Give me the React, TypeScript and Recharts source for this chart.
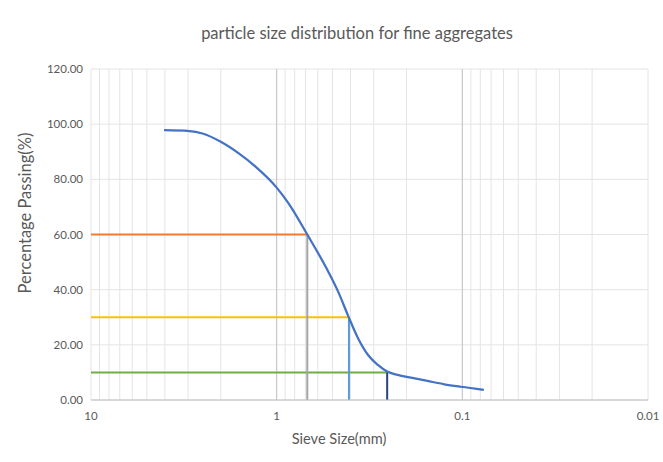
import { ComposedChart, Line, XAxis, YAxis, CartesianGrid, ReferenceLine } from "recharts";

// sieve sizes (mm) and percentage passing
const sieveSizes = [4.04, 2.95, 2.51, 2.0, 1.6, 1.3, 1.0, 0.863, 0.684, 0.527, 0.466, 0.412, 0.364, 0.322, 0.285, 0.254, 0.223, 0.189, 0.154, 0.125, 0.102, 0.0766];
const passing = [97.8, 97.5, 96.6, 93.6, 89.4, 84.6, 77.0, 71.3, 60, 46.5, 39.2, 30.5, 22.3, 16.3, 12.7, 10.3, 9.1, 8.1, 6.9, 5.7, 4.8, 3.7];

// D60, D30, D10
const dPercents = [60, 30, 10];
const dSizes = [0.684, 0.408, 0.254];
const hColors = ["#ED7D31", "#FFC000", "#70AD47"];
const vColors = ["#A5A5A5", "#5B9BD5", "#264478"];

const xGrid = [
  10, 9, 8, 7, 6, 5, 4, 3, 2,
  1, 0.9, 0.8, 0.7, 0.6, 0.5, 0.4, 0.3, 0.2,
  0.1, 0.09, 0.08, 0.07, 0.06, 0.05, 0.04, 0.03, 0.02,
  0.01,
];
const xMajor = [10, 1, 0.1, 0.01];
const yTicks = [0, 20, 40, 60, 80, 100, 120];

const curve = sieveSizes.map((s, i) => ({ size: s, p: passing[i] }));

const FONT = "Lato, 'Open Sans', sans-serif";

export default function App() {
  return (
    <div style={{ position: "absolute", left: 0, top: 0, width: 663, height: 462, background: "#fff", fontFamily: FONT }}>
      <div style={{ position: "absolute", left: 0, width: 714, top: 23, textAlign: "center", fontSize: 16.5, color: "#595959" }}>
        particle size distribution for fine aggregates
      </div>
      <div style={{ position: "absolute", left: 0, width: 678, top: 430, textAlign: "center", fontSize: 14.6, color: "#595959" }}>
        Sieve Size(mm)
      </div>
      <div
        style={{
          position: "absolute",
          left: 25,
          top: 213,
          transform: "translate(-50%, -50%) rotate(-90deg)",
          whiteSpace: "nowrap",
          fontSize: 16.5,
          color: "#595959",
        }}
      >
        Percentage Passing(%)
      </div>

      <ComposedChart width={663} height={462} margin={{ top: 69, right: 15, bottom: 32, left: 0 }}>
        <CartesianGrid stroke="#e4e4e4" strokeWidth={1} />
        <XAxis
          dataKey="size"
          type="number"
          scale="log"
          domain={[0.01, 10]}
          reversed
          allowDataOverflow
          ticks={xGrid}
          interval={0}
          tickFormatter={(v: number) => (xMajor.includes(v) ? String(v) : "")}
          tickLine={false}
          tickMargin={6}
          height={30}
          axisLine={{ stroke: "#bfbfbf" }}
          tick={{ fill: "#595959", fontSize: 11.5, fontFamily: FONT }}
        />
        <YAxis
          type="number"
          domain={[0, 120]}
          ticks={yTicks}
          width={91}
          axisLine={false}
          tickLine={false}
          tickFormatter={(v: number) => v.toFixed(2)}
          tick={{ fill: "#595959", fontSize: 11.5, fontFamily: FONT }}
        />
        {xMajor.slice(1, 3).map((v) => (
          <ReferenceLine key={v} x={v} stroke="#c4c4c4" strokeWidth={1} />
        ))}
        {dPercents.map((p, i) => (
          <Line
            key={"h" + p}
            data={[{ size: 10, p }, { size: dSizes[i], p }]}
            dataKey="p"
            type="linear"
            stroke={hColors[i]}
            strokeWidth={2}
            dot={false}
            isAnimationActive={false}
          />
        ))}
        {dPercents.map((p, i) => (
          <Line
            key={"v" + p}
            data={[{ size: dSizes[i], p }, { size: dSizes[i], p: 0 }]}
            dataKey="p"
            type="linear"
            stroke={vColors[i]}
            strokeWidth={2}
            dot={false}
            isAnimationActive={false}
          />
        ))}
        <Line
          data={curve}
          dataKey="p"
          type="monotone"
          stroke="#4472C4"
          strokeWidth={2.25}
          dot={false}
          isAnimationActive={false}
        />
      </ComposedChart>
    </div>
  );
}
